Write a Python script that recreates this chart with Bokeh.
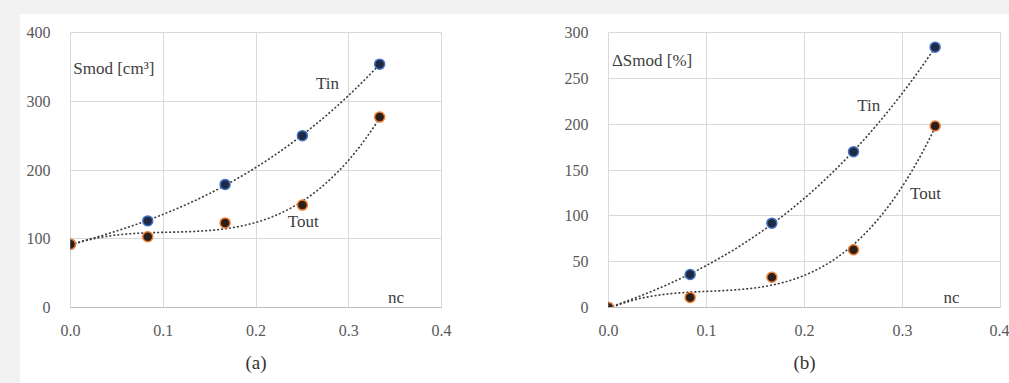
import numpy as np
from bokeh.plotting import figure
from bokeh.layouts import row, column
from bokeh.models import Range1d, FixedTicker, PrintfTickFormatter, Label, Spacer, Title
from bokeh.embed import file_html
from bokeh.resources import INLINE

# ---- data ----
nc = [0.0, 0.0833, 0.1667, 0.25, 0.3333]
smod_tin = [92, 126, 179, 250, 354]
smod_tout = [92, 103, 123, 149, 277]
dsmod_tin = [0, 36, 92, 170, 284]
dsmod_tout = [0, 11, 33, 63, 198]
x_ticks = [0.0, 0.1, 0.2, 0.3, 0.4]
y_ticks_a = [0, 100, 200, 300, 400]
y_ticks_b = [0, 50, 100, 150, 200, 250, 300]

SERIF = "Liberation Serif"
TICK_C = "#595959"
TXT_C = "#404040"
GRID_C = "#d9d9d9"


def make_panel(width, left, right, ymax, yticks, tin, tout, ylabel, labels, caption):
    p = figure(width=width, height=369, x_range=Range1d(0, 0.4), y_range=Range1d(0, ymax),
               output_backend="svg", toolbar_location=None)
    p.min_border_left = left
    p.min_border_right = right
    p.min_border_top = 18
    p.min_border_bottom = 75
    p.background_fill_color = "white"
    p.border_fill_color = "white"
    p.outline_line_color = GRID_C
    p.xgrid.grid_line_color = GRID_C
    p.ygrid.grid_line_color = GRID_C
    p.xaxis.ticker = FixedTicker(ticks=x_ticks)
    p.yaxis.ticker = FixedTicker(ticks=yticks)
    p.xaxis.formatter = PrintfTickFormatter(format="%.1f")
    for ax in (p.xaxis[0], p.yaxis[0]):
        ax.major_tick_line_color = None
        ax.minor_tick_line_color = None
        ax.major_label_text_font = SERIF
        ax.major_label_text_font_size = "16px"
        ax.major_label_text_color = TICK_C
    p.xaxis.axis_line_color = "#bfbfbf"
    p.yaxis.axis_line_color = None
    p.xaxis.major_label_standoff = 11
    p.yaxis.major_label_standoff = 14

    xs = np.linspace(0, nc[-1], 200)
    for ys in (tin, tout):
        c = np.polyfit(nc, ys, 3)
        p.line(xs, np.polyval(c, xs), line_color="#3a3a3a", line_width=1.6, line_dash="2 2")
    p.scatter(nc, tin, size=10, fill_color="#1f2a44", line_color="#4472c4", line_width=1.5)
    p.scatter(nc, tout, size=10, fill_color="#2a1f1a", line_color="#ed7d31", line_width=1.5)

    p.add_layout(Label(x=ylabel[1], y=ylabel[2], text=ylabel[0], text_font=SERIF,
                       text_font_size="17px", text_color=TXT_C,
                       text_align="left", text_baseline="middle"))
    for t, x, y in labels:
        p.add_layout(Label(x=x, y=y, text=t, text_font=SERIF, text_font_size="17px",
                           text_color=TXT_C, text_align="center", text_baseline="middle"))
    p.add_layout(Title(text=caption[0], align="center", offset=caption[1], standoff=22,
                       text_font=SERIF, text_font_size="19px", text_font_style="normal",
                       text_color="#333333"), "below")
    return p


p1 = make_panel(500, 50, 79, 400, y_ticks_a, smod_tin, smod_tout,
                ("Smod [cm³]", 0.003, 348),
                [("Tin", 0.277, 326), ("Tout", 0.251, 125), ("nc", 0.351, 14)],
                ("(a)", -13))
p2 = make_panel(489, 88, 9, 300, y_ticks_b, dsmod_tin, dsmod_tout,
                ("ΔSmod [%]", 0.0035, 269),
                [("Tin", 0.2655, 220), ("Tout", 0.3234, 124), ("nc", 0.35, 11)],
                ("(b)", -15))

bg = {"background-color": "#f2f2f2"}
layout = column(Spacer(width=1009, height=14, styles=bg),
                row(Spacer(width=20, height=369, styles=bg), p1, p2))

open("out.html", "w").write(file_html(layout, INLINE))
